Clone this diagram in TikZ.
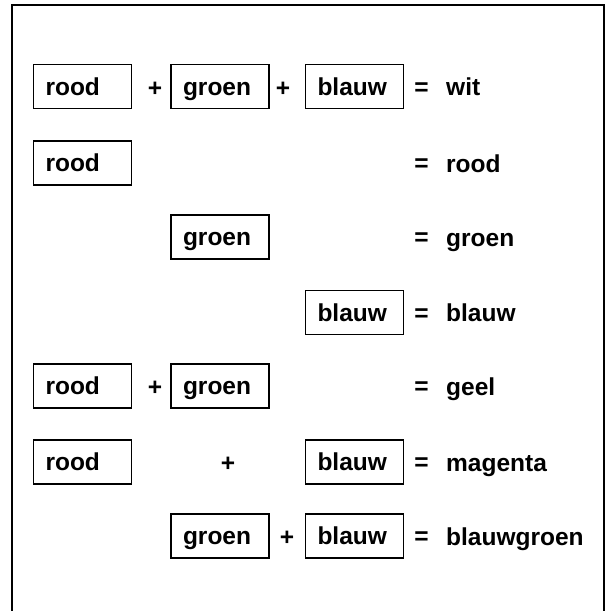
\documentclass[tikz,border=0pt]{standalone}
\usepackage{fontspec}
\setmainfont{Liberation Sans}
\begin{document}
\begin{tikzpicture}[x=1pt,y=-1pt,
  lbl/.style={font=\fontsize{24.5}{27}\selectfont\bfseries, inner sep=0pt},
  colorbox/.style={lbl, draw, line width=1.5pt, rectangle,
    text width=74pt, align=left, inner xsep=12pt, inner ysep=0pt,
    minimum height=44pt, text height=17.5pt, text depth=0pt},
  op/.style={lbl, yshift=-2.5pt},
  result/.style={lbl, anchor=base west},
  frame/.style={line width=2pt}]
\useasboundingbox (0,0) rectangle (607,611);
% open frame
\coordinate (fbl) at (12,611);
\coordinate (ftl) at (12,5);
\coordinate (ftr) at (604,5);
\coordinate (fbr) at (604,611);
\draw[frame] (fbl) -- (ftl) -- (ftr) -- (fbr);

% columns of the boxes
\def\xr{82.5}
\def\xg{220}
\def\xb{354.5}
\def\xeq{421.5}
\def\xres{446}

% row 1: rood + groen + blauw = wit
\node[colorbox] (r1) at (\xr,86.5) {rood};
\node[op] (p1a) at (155,86.5) {+};
\node[colorbox] (g1) at (\xg,86.5) {groen};
\node[op] (p1b) at (283,86.5) {+};
\node[colorbox] (b1) at (\xb,86.5) {blauw};
\node[op] (e1) at (\xeq,86.5) {=};
\node[result] (w1) at (\xres,95.5) {wit};

% row 2
\node[colorbox] (r2) at (\xr,163) {rood};
\node[op] (e2) at (\xeq,163) {=};
\node[result] (w2) at (\xres,172) {rood};

% row 3
\node[colorbox] (g3) at (\xg,237) {groen};
\node[op] (e3) at (\xeq,237) {=};
\node[result] (w3) at (\xres,246) {groen};

% row 4
\node[colorbox] (b4) at (\xb,312.5) {blauw};
\node[op] (e4) at (\xeq,312.5) {=};
\node[result] (w4) at (\xres,321.5) {blauw};

% row 5
\node[colorbox] (r5) at (\xr,386) {rood};
\node[op] (p5) at (155,386) {+};
\node[colorbox] (g5) at (\xg,386) {groen};
\node[op] (e5) at (\xeq,386) {=};
\node[result] (w5) at (\xres,395) {geel};

% row 6
\node[colorbox] (r6) at (\xr,462) {rood};
\node[op] (p6) at (228,462) {+};
\node[colorbox] (b6) at (\xb,462) {blauw};
\node[op] (e6) at (\xeq,462) {=};
\node[result] (w6) at (\xres,471) {magenta};

% row 7
\node[colorbox] (g7) at (\xg,536) {groen};
\node[op] (p7) at (287,536) {+};
\node[colorbox] (b7) at (\xb,536) {blauw};
\node[op] (e7) at (\xeq,536) {=};
\node[result] (w7) at (\xres,545) {blauwgroen};
\end{tikzpicture}
\end{document}
